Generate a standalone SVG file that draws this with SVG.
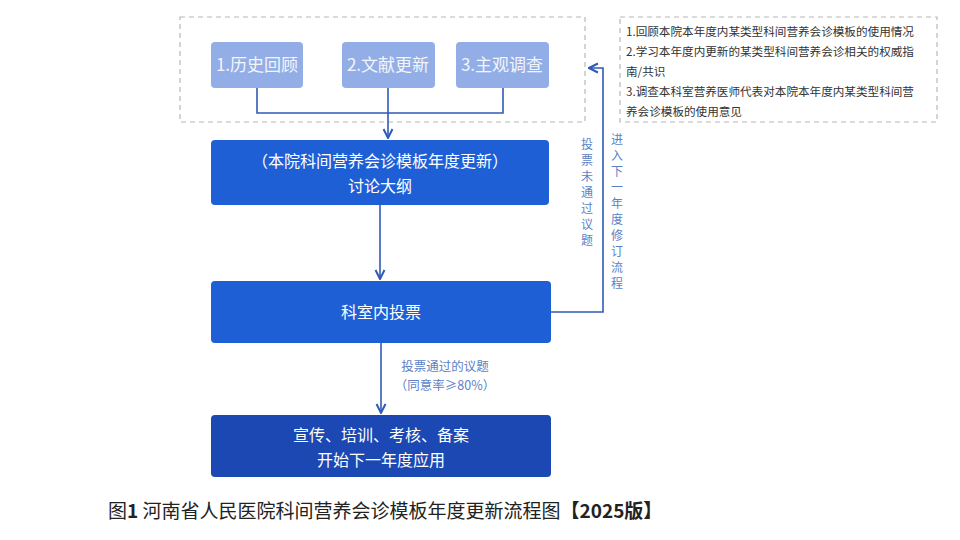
<svg xmlns="http://www.w3.org/2000/svg" width="960" height="540" viewBox="0 0 960 540">
<defs>
<marker id="ah" viewBox="0 0 10 10" refX="9" refY="5" markerWidth="7" markerHeight="7" orient="auto"><path d="M1,1 L9,5 L1,9" fill="none" stroke="#2f5bb7" stroke-width="1.8"/></marker>
<style>
text{font-family:"Noto Sans CJK SC","Noto Sans",sans-serif}
.dash{fill:none;stroke:#b8b8b8;stroke-width:1.2;stroke-dasharray:5 4}
.lt{fill:#93aee6}
.dk{fill:#1e5fd6}
.dd{fill:#1b48b3}
.wt{fill:#fff;font-size:16px;text-anchor:middle}
.lw{fill:#f2f5fc;font-size:17px;text-anchor:middle}
.ln{fill:none;stroke:#2f5bb7;stroke-width:1.6}
.vt{fill:#5d7fc4;font-size:12.5px;text-anchor:middle}
.vc{fill:#5d7fc4;font-size:12px;text-anchor:middle}
.nt{fill:#333;font-size:11.6px}
</style>
</defs>
<rect width="960" height="540" fill="#fff"/>
<rect class="dash" x="180" y="17" width="405" height="105"/>
<rect class="dash" x="620" y="17" width="317" height="105"/>
<g id="n1"><rect class="lt" x="211" y="42" width="92" height="46" rx="4"/><text class="lw" x="257" y="71">1.历史回顾</text></g>
<g id="n2"><rect class="lt" x="342" y="42" width="93" height="46" rx="4"/><text class="lw" x="388" y="71">2.文献更新</text></g>
<g id="n3"><rect class="lt" x="456" y="42" width="93" height="46" rx="4"/><text class="lw" x="502" y="71">3.主观调查</text></g>
<g id="n4"><rect class="dk" x="211" y="140" width="338" height="65" rx="4"/><text class="wt" x="380" y="167">（本院科间营养会诊模板年度更新）</text><text class="wt" x="380" y="192">讨论大纲</text></g>
<g id="n5"><rect class="dk" x="211" y="281" width="340" height="62" rx="4"/><text class="wt" x="381" y="318">科室内投票</text></g>
<g id="n6"><rect class="dd" x="211" y="415" width="340" height="62" rx="4"/><text class="wt" x="381" y="441">宣传、培训、考核、备案</text><text class="wt" x="381" y="466">开始下一年度应用</text></g>
<g id="note">
<text class="nt" x="626" y="36">1.回顾本院本年度内某类型科间营养会诊模板的使用情况</text>
<text class="nt" x="626" y="56">2.学习本年度内更新的某类型科间营养会诊相关的权威指</text>
<text class="nt" x="626" y="76">南/共识</text>
<text class="nt" x="626" y="96">3.调查本科室营养医师代表对本院本年度内某类型科间营</text>
<text class="nt" x="626" y="116">养会诊模板的使用意见</text>
</g>
<g id="connectors">
<path class="ln" d="M257,88 V113 H503 V88"/>
<path class="ln" d="M388,88 V138" marker-end="url(#ah)"/>
<path class="ln" d="M380,205 V279" marker-end="url(#ah)"/>
<path class="ln" d="M381,343 V413" marker-end="url(#ah)"/>
<path class="ln" d="M551,312 H603 V68 H589" marker-end="url(#ah)"/>
</g>
<text class="vt" x="445" y="371">投票通过的议题</text>
<text class="vt" x="445" y="390">（同意率≥80%）</text>
<g id="lbl1">
<text class="vc" x="587" y="149">投</text><text class="vc" x="587" y="165">票</text><text class="vc" x="587" y="181">未</text><text class="vc" x="587" y="197">通</text><text class="vc" x="587" y="213">过</text><text class="vc" x="587" y="229">议</text><text class="vc" x="587" y="245">题</text>
</g>
<g id="lbl2">
<text class="vc" x="617" y="144">进</text><text class="vc" x="617" y="160">入</text><text class="vc" x="617" y="176">下</text><text class="vc" x="617" y="192">一</text><text class="vc" x="617" y="208">年</text><text class="vc" x="617" y="224">度</text><text class="vc" x="617" y="240">修</text><text class="vc" x="617" y="256">订</text><text class="vc" x="617" y="272">流</text><text class="vc" x="617" y="288">程</text>
</g>
<text x="108" y="518" font-size="19" fill="#222">图<tspan font-weight="bold">1</tspan> 河南省人民医院科间营养会诊模板年度更新流程图<tspan font-weight="bold">【2025版】</tspan></text>
</svg>
